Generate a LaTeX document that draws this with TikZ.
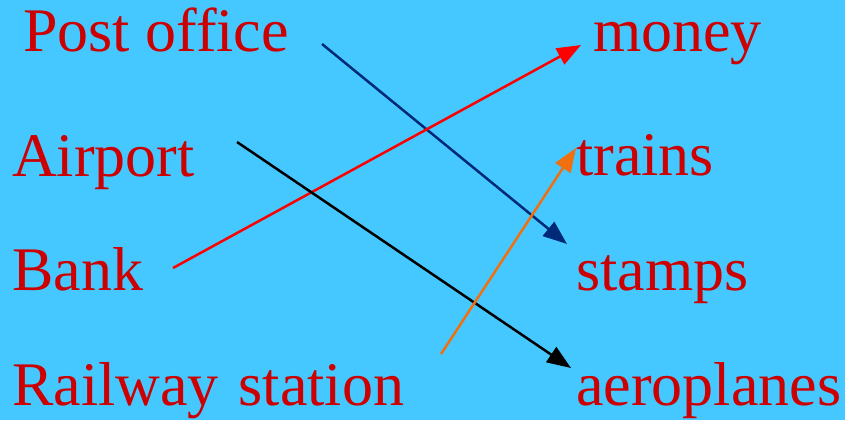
\documentclass[tikz,border=0pt]{standalone}
\usepackage{fontspec}
\setmainfont{Liberation Serif}
\usepackage{xcolor}
\usetikzlibrary{positioning, calc, arrows.meta}
\definecolor{skyback}{HTML}{45C8FF}
\definecolor{wordred}{HTML}{CC0000}
\definecolor{arrowred}{HTML}{FF0000}
\definecolor{navyline}{HTML}{002A78}
\definecolor{orangeline}{HTML}{F07010}

\tikzset{
  word/.style={anchor=base west, inner sep=0pt, text=wordred,
    font=\fontsize{62}{70}\selectfont},
  link/.style={line width=2.5pt, -{Triangle[length=24pt,width=18pt]}}
}

\begin{document}
\begin{tikzpicture}[x=1pt,y=-1pt]
            % Background
            \fill[skyback] (0,0) rectangle (845,420);
            \useasboundingbox (0,0) rectangle (845,420);

            % Left words
            \node[word] (post) at (23,52) {Post office};
            \node[word] (airport) at (12,176) {Airport};
            \node[word] (bank) at (12,290) {Bank};
            \node[word] (railway) at (12,405) {Railway\hspace{0.32em}station};

            % Right words
            \node[word] (money) at (593,52) {money};
            \node[word] (trains) at (576,175) {trains};
            \node[word] (stamps) at (576,290) {stamps};
            \node[word] (planes) at (576,405) {aeroplanes};

            % Line ends
            \coordinate (postend) at (322,44);
            \coordinate (stampsend) at (567,244);
            \coordinate (bankend) at (173,268);
            \coordinate (moneyend) at (581,45);
            \coordinate (airportend) at (237,142);
            \coordinate (planesend) at (571,368);
            \coordinate (railwayend) at (441,354);
            \coordinate (trainsend) at (576,148);

            % Connectors
            \draw[link, navyline] (postend) -- (stampsend);
            \draw[link, arrowred] (bankend) -- (moneyend);
            \draw[link, black] (airportend) -- (planesend);
            \draw[link, orangeline] (railwayend) -- (trainsend);
        \end{tikzpicture}
\end{document}
